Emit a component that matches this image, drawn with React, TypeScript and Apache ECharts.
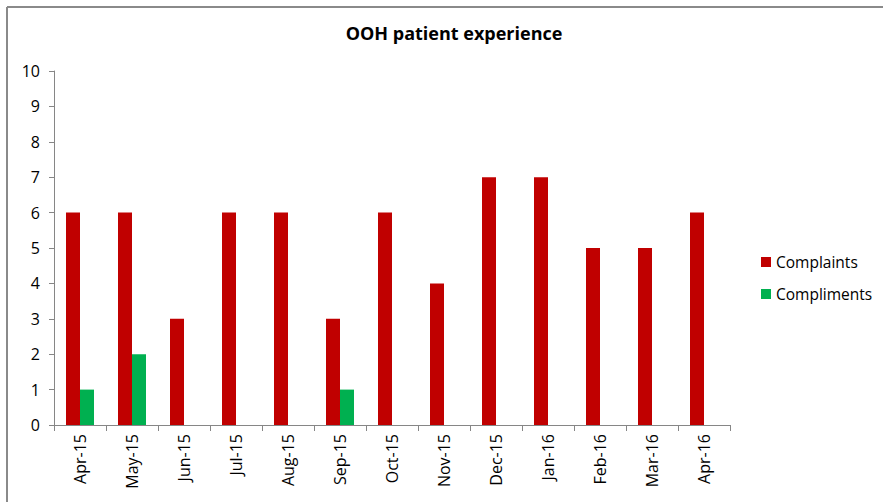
import React, { useEffect, useRef } from "react";
import * as echarts from "echarts";

const categories = ["Apr-15","May-15","Jun-15","Jul-15","Aug-15","Sep-15","Oct-15","Nov-15","Dec-15","Jan-16","Feb-16","Mar-16","Apr-16"];
const complaints = [6, 6, 3, 6, 6, 3, 6, 4, 7, 7, 5, 5, 6];
const compliments = [1, 2, null, null, null, 1, null, null, null, null, null, null, null];
const yTicks = [0, 10, 1];

const FONT = "'Open Sans', Lato, sans-serif";

export default function App() {
  const ref = useRef<HTMLDivElement>(null);
  useEffect(() => {
    const chart = echarts.init(ref.current!, null, { renderer: "svg" });
    chart.setOption({
      animation: false,
      backgroundColor: "#ffffff",
      title: {
        text: "OOH patient experience",
        left: 449,
        top: 19,
        textAlign: "center",
        textStyle: { fontFamily: FONT, fontSize: 18, fontWeight: "bold", color: "#000" },
      },
      graphic: [
        { type: "line", shape: { x1: 7, y1: 7, x2: 883, y2: 7 }, style: { stroke: "#8a8a8a", lineWidth: 2 } },
        { type: "line", shape: { x1: 7, y1: 7, x2: 7, y2: 502 }, style: { stroke: "#8a8a8a", lineWidth: 2 } },
      ],
      legend: {
        orient: "vertical",
        left: 756,
        top: 249,
        itemWidth: 10,
        itemHeight: 10,
        itemGap: 16,
        icon: "rect",
        textStyle: { fontFamily: FONT, fontSize: 15.5, color: "#000" },
        data: ["Complaints", "Compliments"],
      },
      grid: { left: 54, right: 883 - 730, top: 71, bottom: 502 - 425, containLabel: false },
      xAxis: {
        type: "category",
        data: categories,
        axisLine: { lineStyle: { color: "#868686", width: 1 } },
        axisTick: { show: true, length: 6, lineStyle: { color: "#868686" } },
        axisLabel: { rotate: 90, fontFamily: FONT, fontSize: 16, color: "#000", margin: 9 },
      },
      yAxis: {
        type: "value",
        min: yTicks[0],
        max: yTicks[1],
        interval: yTicks[2],
        splitLine: { show: false },
        axisLine: { show: true, lineStyle: { color: "#868686", width: 1 } },
        axisTick: { show: true, length: 5, lineStyle: { color: "#868686" } },
        axisLabel: { fontFamily: FONT, fontSize: 16, color: "#000", margin: 14 },
      },
      series: [
        {
          name: "Complaints",
          type: "bar",
          data: complaints,
          itemStyle: { color: "#c00000" },
          barWidth: 14,
          barGap: "0%",
        },
        {
          name: "Compliments",
          type: "bar",
          data: compliments,
          itemStyle: { color: "#00b050" },
          barWidth: 14,
          barGap: "0%",
        },
      ],
    });
    return () => chart.dispose();
  }, []);
  return <div ref={ref} style={{ position: "fixed", left: 0, top: 0, width: 883, height: 502 }} />;
}
